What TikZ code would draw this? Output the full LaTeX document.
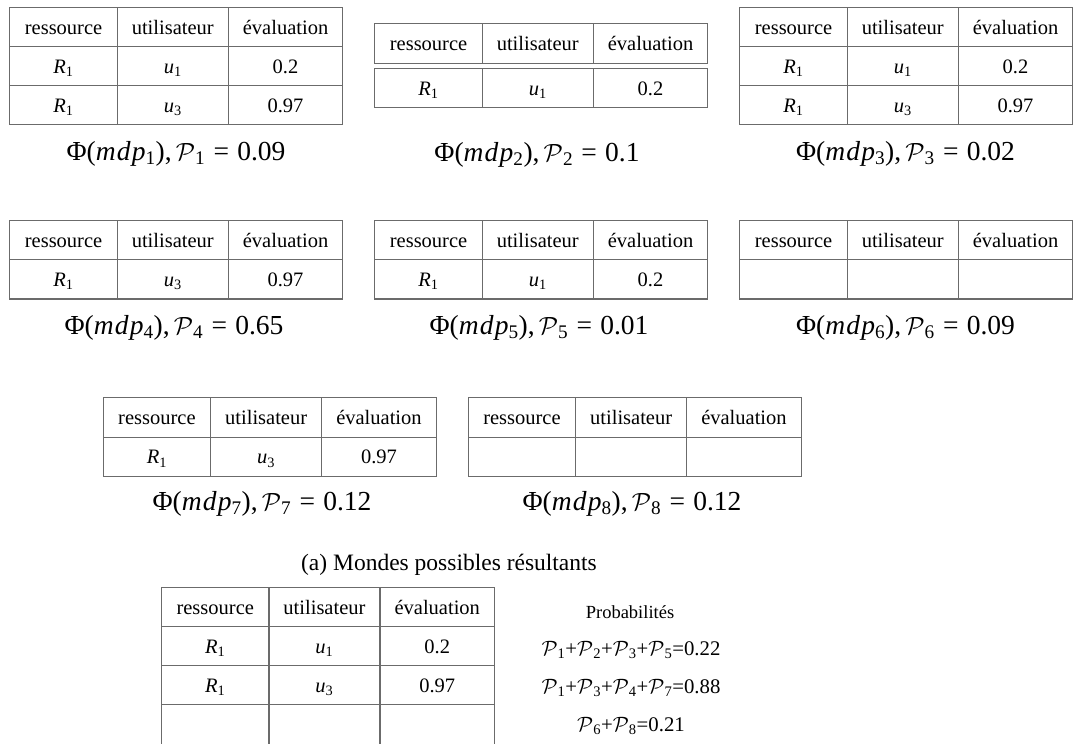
\documentclass[tikz,border=0pt]{standalone}
\usepackage{fontspec}
\setmainfont{Liberation Serif}
\definecolor{rulegray}{gray}{0.42}
\newcommand\tabtext{\fontsize{20.5}{24}\selectfont}
\newcommand\captext{\fontsize{27.5}{32}\selectfont}
\newcommand\probtext{\fontsize{18.5}{22}\selectfont}
\newcommand\sumtext{\fontsize{20.8}{25}\selectfont}
% italic symbol with a subscript index
\newcommand\isub[2]{\textit{#1}\textsubscript{#2}}
% calligraphic P with a subscript index
\newcommand\cP[1]{$\mathcal{P}$\textsubscript{#1}}
% caption under each world: Phi(mdp_i), P_i = value
\newcommand\wcap[2]{Φ(\textit{m\kern1.2pt d\kern1.2pt p}\textsubscript{#1}),\hspace{0.15em}\cP{#1}\hspace{0.3em}=\hspace{0.3em}#2}
% one table row of three cells: name, x, y (top left), cell texts
\newcommand\trow[6]{%
  \node[cellbox,minimum width=107.4pt] (#1a) at (#2,#3) {#4};
  \node[cellbox,minimum width=111pt] (#1b) at ({#2+107.4},#3) {#5};
  \node[cellbox,minimum width=114.6pt] (#1c) at ({#2+218.4},#3) {#6};}
\newcommand\thead[3]{\trow{#1}{#2}{#3}{ressource}{utilisateur}{évaluation}}
\begin{document}
\begin{tikzpicture}[x=1pt,y=-1pt,
  cellbox/.style={draw=rulegray,line width=1.1pt,minimum height=39.2pt,
    inner sep=0pt,text height=16.5pt,text depth=2pt,anchor=north west,font=\tabtext},
  capnode/.style={font=\captext,inner sep=0pt,anchor=base}]
\useasboundingbox (0,0) rectangle (1080,744);

% world 1
\thead{t1h}{9.3}{6.7}
\trow{t1r}{9.3}{45.9}{\isub{R}{1}}{\isub{u}{1}}{0.2}
\trow{t1s}{9.3}{85.1}{\isub{R}{1}}{\isub{u}{3}}{0.97}
\node[capnode] (cap1) at (176,160) {\wcap{1}{0.09}};

% world 2 (header and row drawn apart)
\thead{t2h}{374.3}{23.3}
\trow{t2r}{374.3}{67.7}{\isub{R}{1}}{\isub{u}{1}}{0.2}
\node[capnode] (cap2) at (537,161) {\wcap{2}{0.1}};

% world 3
\thead{t3h}{739.3}{6.7}
\trow{t3r}{739.3}{45.9}{\isub{R}{1}}{\isub{u}{1}}{0.2}
\trow{t3s}{739.3}{85.1}{\isub{R}{1}}{\isub{u}{3}}{0.97}
\node[capnode] (cap3) at (905.5,160) {\wcap{3}{0.02}};

% worlds 4 to 6
\thead{t4h}{9.3}{220}
\trow{t4r}{9.3}{259.2}{\isub{R}{1}}{\isub{u}{3}}{0.97}
\node[capnode] (cap4) at (174,334) {\wcap{4}{0.65}};

\thead{t5h}{374.3}{220}
\trow{t5r}{374.3}{259.2}{\isub{R}{1}}{\isub{u}{1}}{0.2}
\node[capnode] (cap5) at (539,334) {\wcap{5}{0.01}};

\thead{t6h}{739.3}{220}
\trow{t6r}{739.3}{259.2}{}{}{}
\node[capnode] (cap6) at (905.5,334) {\wcap{6}{0.09}};

% worlds 7 and 8
\thead{t7h}{102.7}{397.3}
\trow{t7r}{102.7}{436.5}{\isub{R}{1}}{\isub{u}{3}}{0.97}
\node[capnode] (cap7) at (262,510) {\wcap{7}{0.12}};

\thead{t8h}{467.7}{397.3}
\trow{t8r}{467.7}{436.5}{}{}{}
\node[capnode] (cap8) at (632,510) {\wcap{8}{0.12}};

% sub-caption
\node[font=\fontsize{23.5}{28}\selectfont,inner sep=0pt,anchor=base] (subcap) at (449,570)
  {(a) Mondes possibles résultants};

% combined table
\thead{tbh}{161}{586.7}
\trow{tbr}{161}{625.9}{\isub{R}{1}}{\isub{u}{1}}{0.2}
\trow{tbs}{161}{665.1}{\isub{R}{1}}{\isub{u}{3}}{0.97}
\trow{tbt}{161}{704.3}{}{}{}

% probabilities of each row
\node[font=\probtext,inner sep=0pt] (ptitle) at (630,612) {Probabilités};
\node[font=\sumtext,inner sep=0pt] (p1) at (631,650) {\cP{1}+\cP{2}+\cP{3}+\cP{5}=0.22};
\node[font=\sumtext,inner sep=0pt] (p2) at (631,688) {\cP{1}+\cP{3}+\cP{4}+\cP{7}=0.88};
\node[font=\sumtext,inner sep=0pt] (p3) at (631,726) {\cP{6}+\cP{8}=0.21};
\end{tikzpicture}
\end{document}
